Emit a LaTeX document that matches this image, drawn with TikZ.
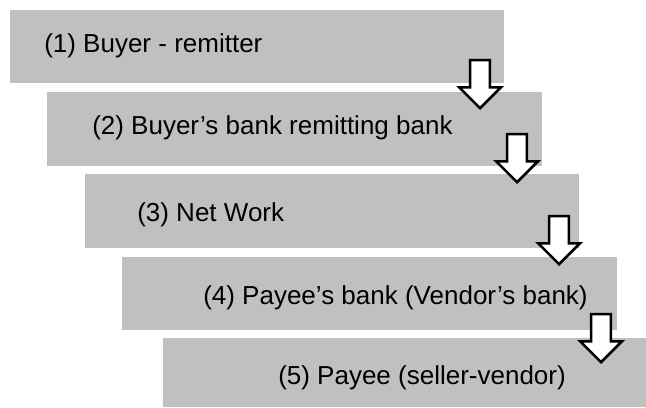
\documentclass[tikz,border=0pt]{standalone}
\usepackage{fontspec}
\setmainfont{Liberation Sans}
\usepackage{xcolor}
\usetikzlibrary{shapes.arrows,positioning}
\definecolor{boxgray}{RGB}{192,192,192}
\tikzset{
  steplabel/.style={anchor=base west, inner sep=0pt, font=\fontsize{19.5}{23}\selectfont},
  downarrow/.style={single arrow, draw=black, fill=white, line width=1.9pt,
    rotate=-90, anchor=tip, inner xsep=0pt, inner ysep=6.5pt, minimum height=36pt,
    single arrow head extend=8.25pt, single arrow tip angle=90}
}

\begin{document}
\begin{tikzpicture}[x=0.75pt,y=-0.75pt]
    \useasboundingbox (0,0) rectangle (646,407);
    % Stage boxes
    \fill[boxgray] (10,10) rectangle (504,83);
    \fill[boxgray] (47,92) rectangle (542,166);
    \fill[boxgray] (85,174) rectangle (579,248);
    \fill[boxgray] (122,257) rectangle (617,330);
    \fill[boxgray] (163,338) rectangle (646,407);
    % Labels
    \node[steplabel] (s1) at (44,52) {(1) Buyer - remitter};
    \node[steplabel] (s2) at (92,134) {(2) Buyer’s bank remitting bank};
    \node[steplabel] (s3) at (137,221) {(3) Net Work};
    \node[steplabel] (s4) at (203,304) {(4) Payee’s bank (Vendor’s bank)};
    \node[steplabel] (s5) at (278,384) {(5) Payee (seller-vendor)};
    % Arrows between stages
    \node[downarrow] (a1) at (480,110) {};
    \node[downarrow] (a2) at (517,184) {};
    \node[downarrow] (a3) at (559,266) {};
    \node[downarrow] (a4) at (601,364) {};
\end{tikzpicture}
\end{document}
